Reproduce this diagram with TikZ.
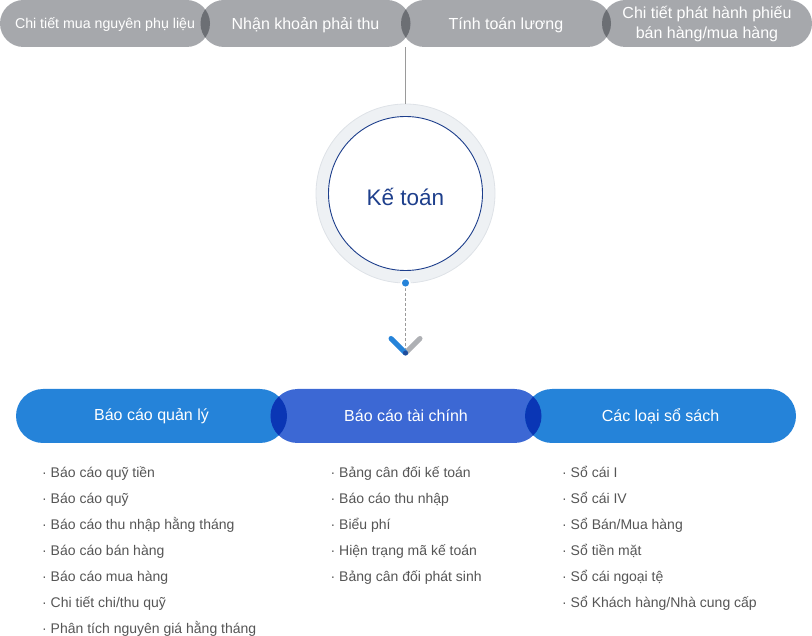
\documentclass[tikz,border=0pt]{standalone}
\usepackage{fontspec}
\setmainfont{Liberation Sans}
\usetikzlibrary{shapes.misc}
\definecolor{pillgray}{HTML}{A6A8AC}
\definecolor{ovgray}{HTML}{6C6F74}
\definecolor{ringfill}{HTML}{EEF1F4}
\definecolor{ringedge}{HTML}{DEE2E7}
\definecolor{kblue}{HTML}{1E3F8C}
\definecolor{dotblue}{HTML}{2583D9}
\definecolor{pblue}{HTML}{2583D9}
\definecolor{pindigo}{HTML}{3C68D4}
\definecolor{ovblue}{HTML}{0A36B5}
\definecolor{chevgray}{HTML}{AEB0B4}
\definecolor{chevblue}{HTML}{2583D9}
\definecolor{itemgray}{HTML}{555555}
\definecolor{linegray}{HTML}{9A9A9A}
\tikzset{
  toppill/.style={rounded rectangle, fill=pillgray, minimum width=210pt, minimum height=47pt, inner sep=0pt},
  toptext/.style={text=white, inner sep=0pt, align=center},
  botpill/.style={rounded rectangle, text=white, minimum width=271pt, minimum height=54pt, inner sep=0pt, font=\fontsize{16}{19}\selectfont},
  item/.style={anchor=base west, inner sep=0pt, text=itemgray, font=\fontsize{14}{17}\selectfont},
}
\begin{document}
\begin{tikzpicture}[x=1pt,y=-1pt]
\useasboundingbox (0,0) rectangle (812,636);
% top pills
\node[toppill] (p1) at (105,23.5) {};
\node[toppill] (p2) at (305.5,23.5) {};
\node[toppill] (p3) at (506,23.5) {};
\node[toppill] (p4) at (707,23.5) {};
\begin{scope}
  \clip[rounded corners=23.5pt] (0,0) rectangle (210,47);
  \fill[ovgray, rounded corners=23.5pt] (200.5,0) rectangle (410.5,47);
\end{scope}
\begin{scope}
  \clip[rounded corners=23.5pt] (200.5,0) rectangle (410.5,47);
  \fill[ovgray, rounded corners=23.5pt] (401,0) rectangle (611,47);
\end{scope}
\begin{scope}
  \clip[rounded corners=23.5pt] (401,0) rectangle (611,47);
  \fill[ovgray, rounded corners=23.5pt] (602,0) rectangle (812,47);
\end{scope}
\node[toptext, font=\fontsize{14.2}{17}\selectfont] (t1) at ([yshift=-1.5pt]p1.center) {Chi tiết mua nguyên phụ liệu};
\node[toptext, font=\fontsize{16}{19}\selectfont] (t2) at ([yshift=-1.5pt]p2.center) {Nhận khoản phải thu};
\node[toptext, font=\fontsize{16}{19}\selectfont] (t3) at ([yshift=-1.5pt]p3.center) {Tính toán lương};
\node[toptext, font=\fontsize{16}{20}\selectfont] (t4) at ([yshift=-1pt]p4.center) {Chi tiết phát hành phiếu\\bán hàng/mua hàng};
% central circle
\node[circle, fill=ringfill, draw=ringedge, line width=0.8pt, minimum size=179pt, inner sep=0pt] (ring) at (405.5,193.5) {};
\node[circle, fill=white, draw=kblue, line width=0.9pt, minimum size=154pt, inner sep=0pt] (kt) at (405.5,193.5) {};
\node[text=kblue, inner sep=0pt, font=\fontsize{22.5}{26}\selectfont] (ktl) at ([yshift=-3.5pt]kt.center) {Kế toán};
\draw[linegray, line width=0.8pt] (ring.north |- p2.south) -- (ring.north);
% dot and chevron
\coordinate (vtip) at (405.5,353);
\draw[linegray, line width=0.8pt, dash pattern=on 3pt off 2pt] (405.5,283) -- (vtip);
\node[circle, fill=dotblue, draw=white, line width=1.5pt, minimum size=9pt, inner sep=0pt] (dot) at (405.5,283) {};
\draw[chevgray, line width=5pt, line cap=round] (vtip) -- ++(14.5,-14.5);
\draw[chevblue, line width=5pt, line cap=round] (vtip) ++(-14.5,-14.5) -- (vtip);
\fill[kblue!80!chevblue] (vtip) circle (2.5pt);
% bottom pills
\node[botpill, fill=pblue] (ba) at (151.5,416) {Báo cáo quản lý};
\node[botpill, fill=pindigo] (bb) at (406,416) {Báo cáo tài chính};
\node[botpill, fill=pblue] (bc) at (660.5,416) {Các loại sổ sách};
\begin{scope}
  \clip[rounded corners=27pt] (16,389) rectangle (287,443);
  \fill[ovblue, rounded corners=27pt] (270.5,389) rectangle (541.5,443);
\end{scope}
\begin{scope}
  \clip[rounded corners=27pt] (270.5,389) rectangle (541.5,443);
  \fill[ovblue, rounded corners=27pt] (525,389) rectangle (796,443);
\end{scope}
% lists
\foreach \t [count=\i] in {Báo cáo quỹ tiền, Báo cáo quỹ, Báo cáo thu nhập hằng tháng, Báo cáo bán hàng, Báo cáo mua hàng, Chi tiết chi/thu quỹ, Phân tích nguyên giá hằng tháng}
  \node[item] (la\i) at (42,{477.5+26*(\i-1)}) {·\ \t};
\foreach \t [count=\i] in {Bảng cân đối kế toán, Báo cáo thu nhập, Biểu phí, Hiện trạng mã kế toán, Bảng cân đối phát sinh}
  \node[item] (lb\i) at (330.5,{477.5+26*(\i-1)}) {·\ \t};
\foreach \t [count=\i] in {Sổ cái I, Sổ cái IV, Sổ Bán/Mua hàng, Sổ tiền mặt, Sổ cái ngoại tệ, Sổ Khách hàng/Nhà cung cấp}
  \node[item] (lc\i) at (562,{477.5+26*(\i-1)}) {·\ \t};
\end{tikzpicture}
\end{document}
